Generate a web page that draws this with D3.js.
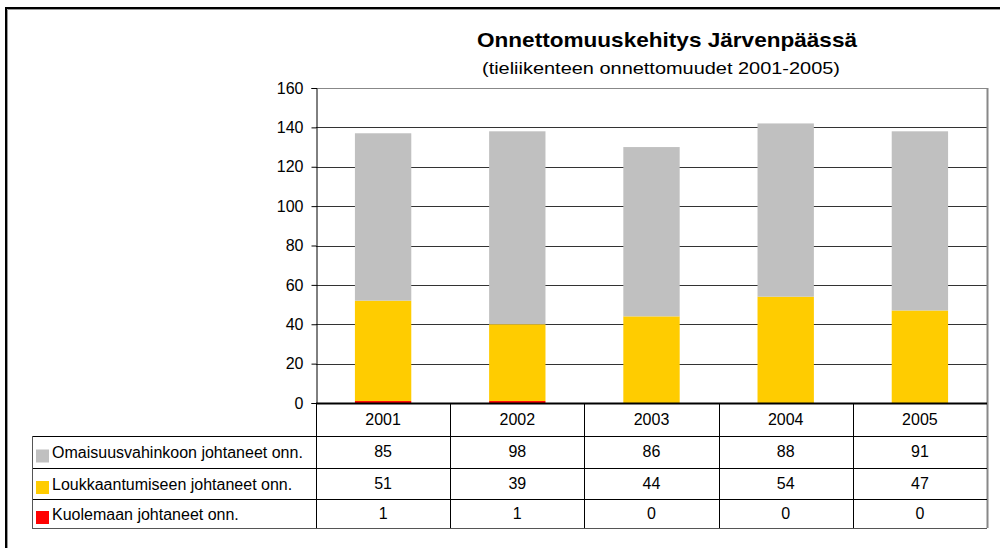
<!DOCTYPE html>
<html>
<head>
<meta charset="utf-8">
<script src="https://cdn.jsdelivr.net/npm/d3@7"></script>
<style>
  body { margin: 0; background: #fff; }
  svg { font-family: "Liberation Sans", Arial, sans-serif; }
</style>
</head>
<body>
<script>
// chart data
var years = ["2001", "2002", "2003", "2004", "2005"];
var seriesNames = ["Omaisuusvahinkoon johtaneet onn.", "Loukkaantumiseen johtaneet onn.", "Kuolemaan johtaneet onn."];
var omaisuus = [85, 98, 86, 88, 91];
var loukkaantuminen = [51, 39, 44, 54, 47];
var kuolema = [1, 1, 0, 0, 0];
var seriesColors = ["#c0c0c0", "#ffcc00", "#ff0000"];
var yTicks = [0, 20, 40, 60, 80, 100, 120, 140, 160];

var width = 1000, height = 548;
var plotLeft = 316, plotRight = 987, plotTop = 88, plotBottom = 403;
var rowTops = [403, 436, 468, 499, 528];
var tableLeft = 32;

var svg = d3.select("body")
    .append("svg")
    .attr("width", width)
    .attr("height", height);

// outer chart border
svg.append("path")
    .attr("d", "M7.5," + height + "V9.5H" + width)
    .attr("fill", "none")
    .attr("stroke", "#999")
    .attr("stroke-width", 1);
svg.append("path")
    .attr("d", "M6," + height + "V8H" + width)
    .attr("fill", "none")
    .attr("stroke", "#000")
    .attr("stroke-width", 2);

// title
svg.append("text")
    .attr("x", 477).attr("y", 47)
    .attr("font-size", "21px")
    .attr("font-weight", "bold")
    .attr("textLength", 380)
    .attr("lengthAdjust", "spacingAndGlyphs")
    .text("Onnettomuuskehitys Järvenpäässä");
svg.append("text")
    .attr("x", 482).attr("y", 74)
    .attr("font-size", "17px")
    .attr("textLength", 358)
    .attr("lengthAdjust", "spacingAndGlyphs")
    .text("(tieliikenteen onnettomuudet 2001-2005)");

var x = d3.scaleBand().domain(years).range([plotLeft, plotRight]).padding(0);
var y = d3.scaleLinear().domain([0, 160]).range([plotBottom, plotTop]);

// gridlines
svg.append("g")
    .selectAll("line")
    .data(yTicks.filter(function (d) { return d > 0; }))
    .join("line")
    .attr("x1", plotLeft).attr("x2", plotRight)
    .attr("y1", function (d) { return Math.round(y(d)) + 0.5; })
    .attr("y2", function (d) { return Math.round(y(d)) + 0.5; })
    .attr("stroke", function (d) { return d === 160 ? "#888" : "#333"; })
    .attr("stroke-width", 1);

// stacked bars (bottom: kuolema, then loukkaantuminen, then omaisuus)
var rows = years.map(function (yr, i) {
    return { year: yr, omaisuus: omaisuus[i], loukkaantuminen: loukkaantuminen[i], kuolema: kuolema[i] };
});
var keys = ["kuolema", "loukkaantuminen", "omaisuus"];
var keyColor = { omaisuus: seriesColors[0], loukkaantuminen: seriesColors[1], kuolema: seriesColors[2] };
var stacked = d3.stack().keys(keys)(rows);
var barW = x.bandwidth() * 0.42;

svg.append("g")
    .selectAll("g")
    .data(stacked)
    .join("g")
    .attr("fill", function (s) { return keyColor[s.key]; })
    .selectAll("rect")
    .data(function (s) { return s; })
    .join("rect")
    .attr("x", function (d) { return x(d.data.year) + (x.bandwidth() - barW) / 2; })
    .attr("width", barW)
    .attr("y", function (d) { return y(d[1]); })
    .attr("height", function (d) { return y(d[0]) - y(d[1]); });

// y axis
var yAxis = d3.axisLeft(y).tickValues(yTicks).tickSize(5).tickPadding(8);
var yg = svg.append("g")
    .attr("transform", "translate(" + (plotLeft + 0.5) + ",0)")
    .call(yAxis);
yg.select(".domain").attr("stroke", "#000");
yg.selectAll(".tick line").attr("stroke", "#000");
yg.selectAll("text")
    .attr("font-size", "16px")
    .attr("font-family", "'Liberation Sans', Arial, sans-serif")
    .attr("fill", "#000");

// plot right border
svg.append("line")
    .attr("x1", plotRight + 0.5).attr("x2", plotRight + 0.5)
    .attr("y1", plotTop).attr("y2", rowTops[4])
    .attr("stroke", "#888").attr("stroke-width", 2);

// data table
var table = svg.append("g").attr("stroke", "#000").attr("stroke-width", 1);
table.append("line")
    .attr("x1", plotLeft).attr("x2", plotRight)
    .attr("y1", rowTops[0] + 0.5).attr("y2", rowTops[0] + 0.5)
    .attr("stroke-width", 2);
rowTops.slice(1).forEach(function (ry, i) {
    table.append("line")
        .attr("x1", tableLeft).attr("x2", plotRight)
        .attr("y1", ry + 0.5).attr("y2", ry + 0.5)
        .attr("stroke", i === 3 ? "#555" : "#000");
});
table.append("line")
    .attr("x1", tableLeft + 0.5).attr("x2", tableLeft + 0.5)
    .attr("y1", rowTops[1]).attr("y2", rowTops[4])
    .attr("stroke", "#555");
years.forEach(function (yr, i) {
    if (i === 0) return;
    table.append("line")
        .attr("x1", Math.round(x(yr)) + 0.5).attr("x2", Math.round(x(yr)) + 0.5)
        .attr("y1", rowTops[0]).attr("y2", rowTops[4]);
});
table.append("line")
    .attr("x1", plotLeft + 0.5).attr("x2", plotLeft + 0.5)
    .attr("y1", rowTops[0]).attr("y2", rowTops[4]);

// year labels
svg.append("g")
    .selectAll("text")
    .data(years)
    .join("text")
    .attr("x", function (d) { return x(d) + x.bandwidth() / 2; })
    .attr("y", (rowTops[0] + rowTops[1]) / 2 + 5)
    .attr("text-anchor", "middle")
    .attr("font-size", "16px")
    .text(function (d) { return d; });

// value rows
var tableValues = [omaisuus, loukkaantuminen, kuolema];
tableValues.forEach(function (vals, r) {
    var cy = (rowTops[r + 1] + rowTops[r + 2]) / 2;
    svg.append("rect")
        .attr("x", 36).attr("y", cy - 2.5)
        .attr("width", 13).attr("height", 13)
        .attr("fill", seriesColors[r]);
    svg.append("text")
        .attr("x", 52).attr("y", cy + 6)
        .attr("font-size", "16px")
        .text(seriesNames[r]);
    svg.append("g")
        .selectAll("text")
        .data(vals)
        .join("text")
        .attr("x", function (d, i) { return x(years[i]) + x.bandwidth() / 2; })
        .attr("y", cy + 5)
        .attr("text-anchor", "middle")
        .attr("font-size", "16px")
        .text(function (d) { return d; });
});
</script>
</body>
</html>
